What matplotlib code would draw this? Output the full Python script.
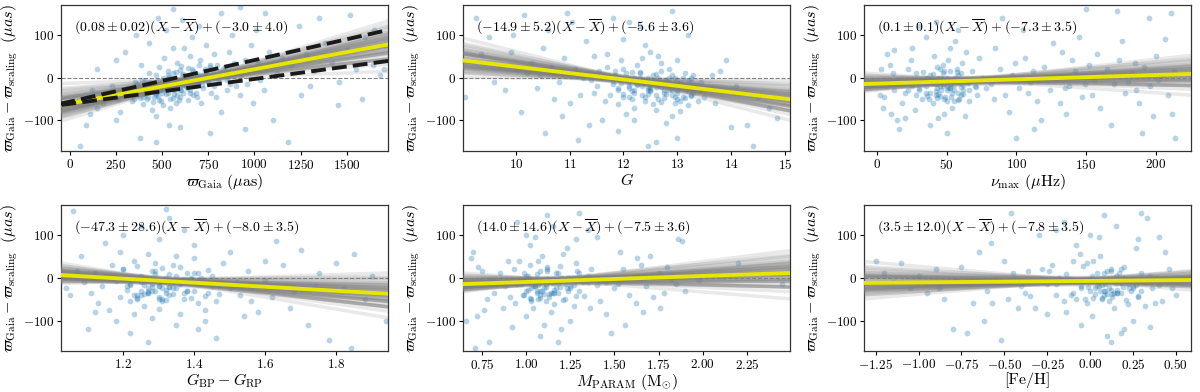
import numpy as np
import matplotlib
matplotlib.use("Agg")
import matplotlib.pyplot as plt

plt.rcParams["font.family"] = "serif"
plt.rcParams["font.serif"] = ["cmr10", "DejaVu Serif"]
plt.rcParams["mathtext.fontset"] = "cm"
plt.rcParams["axes.formatter.use_mathtext"] = True

# --- scatter data (one list pair per panel) ---
plx_x = [412,455,380,520,610,565,495,700,640,350,430,585,670,730,545,470,395,620,760,505,
         330,690,455,580,810,520,365,640,720,600,480,555,425,660,875,510,390,575,705,445,
         530,615,750,340,485,595,680,840,420,560,650,900,470,385,780,540,620,300,710,950,
         260,230,275,205,180,150,120,110,90,55,1000,1050,1080,1120,1150,980,1030,1200,1250,1280,
         1320,1380,1420,1460,1500,1550,1600,1640,1680,1350,1100,1180,1240,1060,1520,1650,1700,1450,1580,1300,
         880,820,950,760,600,470,380,250,300,430,520,610,700,820,920,360,480,560,250,150,
         860,920,990,1010,870,930,790,740,660,560,440,500,590,650,470,530,410,560,620,690,
         380,450,510,575,635,725,480,540,600,665,355,425,495,565,605,745,505,460,590,685,
         400,525,630,700,820,780,850,900,960,1020]
plx_y = [-35,-12,-48,-20,5,-30,-55,-8,22,-25,10,-5,-40,15,-70,-28,-62,-18,30,0,
         -40,8,-45,35,-10,-38,-15,-52,-25,18,-8,-22,-30,-2,12,45,-5,-60,40,-75,
         -15,-35,-5,-55,25,-45,-20,25,-50,10,50,-20,-90,30,55,-110,70,-35,-60,40,
         -50,-20,-80,-45,-60,-70,-30,-85,-110,-160,20,-30,60,10,45,75,-5,30,-40,55,
         15,80,35,-10,65,20,95,30,5,140,-100,-150,120,150,145,110,20,-65,-50,-20,
         100,-80,-120,-130,-115,-150,-140,-100,60,80,110,135,120,150,165,100,140,160,40,20,
         60,-40,-60,110,-15,5,-45,75,95,70,-20,-35,-12,-28,5,15,-8,-48,-3,-15,
         -32,-58,-25,12,-10,-5,-42,2,-30,20,-10,-45,-18,-38,28,10,-65,-22,-52,-35,
         -20,-3,-20,30,5,-20,-5,10,-15,35]
plx_core_x = [420,470,515,560,605,650,695,740,785,830,395,445,490,535,580,625,670,715,760,805,
              350,400,450,500,550,600,650,700,750,800,435,485,530,570,615,655,690,730,775,850,
              375,465,545,585,635,675,710,765,815,890]
plx_core_y = [-25,-40,-8,-18,-30,0,-12,10,-2,20,-45,-20,-30,5,-40,-8,15,-18,25,0,
              -50,-38,-15,-28,-5,-22,-35,2,-10,30,-10,-52,-35,-25,8,-15,-45,20,12,-28,
              -20,-35,-50,-12,-25,-5,5,-35,15,35]

g_x = [12.1,12.5,12.8,13.0,12.3,11.8,12.6,13.2,12.9,12.2,11.6,12.4,12.7,13.1,12.0,11.9,12.55,13.25,12.85,12.15,
       11.7,12.45,13.05,12.35,12.95,11.85,12.65,13.3,12.25,12.75,11.5,12.05,12.6,13.15,12.9,12.2,11.95,12.5,13.0,12.4,
       11.75,12.3,12.8,13.35,12.1,12.7,13.2,11.65,12.55,12.0,12.85,13.1,12.35,11.8,12.6,13.25,12.45,12.95,12.15,11.55,
       12.75,13.05,12.25,11.9,12.65,13.3,12.05,12.5,12.9,11.45,13.4,13.45,13.5,13.38,12.2,12.8,13.0,11.7,12.4,12.0,
       9.25,9.5,9.7,9.9,10.1,10.2,10.4,10.5,10.6,10.8,10.9,11.0,11.1,11.2,11.3,11.4,10.3,10.7,11.05,9.8,
       10.0,9.6,9.35,10.15,10.55,11.15,9.05,10.95,11.35,10.45,11.25,10.85,11.45,10.65,9.95,
       11.8,12.3,12.6,13.0,11.9,12.9,12.1,13.2,11.6,12.45,
       13.6,13.7,13.8,14.0,14.1,14.3,14.5,14.7,14.85,13.9,14.4,13.65]
g_y = [-10,-25,-5,-30,10,-15,-40,-20,5,-35,0,-55,15,-45,20,-30,-8,-2,-28,-50,
       25,0,-12,-20,-60,5,-18,-35,30,-48,-20,-5,8,10,-15,-70,40,-32,-50,-12,
       -40,-2,-38,-15,-25,35,-65,-55,-62,-45,20,-25,45,-8,-75,-42,-38,0,12,15,
       -10,-78,-18,-62,50,5,-85,60,-90,-35,-30,-10,-45,-55,-100,-105,40,55,75,90,
       140,95,30,60,-80,10,-25,70,110,-10,45,-60,20,-40,85,-5,35,-50,130,-30,
       20,-10,55,145,-130,-145,-45,150,-110,5,0,-90,50,25,100,
       140,120,-150,-140,-125,155,130,100,-100,-160,
       -25,-60,15,-115,-20,-110,-45,-70,-95,40,-160,5]
g_core_x = [12.1,12.3,12.5,12.7,12.9,13.1,13.3,12.2,12.4,12.6,12.8,13.0,13.2,11.9,12.05,12.25,12.45,12.65,12.85,13.05,
            13.25,12.15,12.35,12.55,12.75,12.95,13.15,13.35,11.85,12.0,12.2,12.4,12.6,12.8,13.0,13.2,12.1,12.3,12.5,12.7,
            12.9,13.1,11.95,12.45,12.75,13.05,12.35,12.65,12.95,13.25]
g_core_y = [-20,-5,-30,-22,-40,-15,-28,0,-45,-10,-18,-35,-8,-25,10,-15,-28,-50,-2,-22,
            -40,-32,-12,5,-30,-20,-48,-25,15,-38,-28,-5,-22,-12,-5,-32,-45,12,-18,-58,
            -30,0,-12,-25,-35,-55,-40,-2,-45,-10]

nu_x = [45,52,38,58,48,55,42,60,50,35,47,53,40,62,57,44,49,33,65,51,
        46,39,54,59,43,56,36,61,50,41,25,20,28,18,30,22,27,15,32,24,
        70,68,72,75,66,73,64,78,12,8,5,3,10,7,14,4,9,6,11,2,
        48,52,44,56,38,58,42,50,35,63,20,25,30,16,12,
        82,88,92,97,102,106,110,115,120,124,128,133,138,142,147,152,156,160,165,170,
        174,178,183,188,192,196,200,205,209,213,85,95,105,118,126,136,145,158,168,176,
        186,198,207,211,90,100,113,150,172,195,84,99,108,122,131,140,149,162,180,202,
        87,112,135,154,185,212,214,190]
nu_y = [-10,-25,5,-35,15,-5,-40,10,-55,-20,30,-15,-60,-28,20,-2,-45,12,-12,40,
        -30,-8,-70,-50,25,0,-42,35,-18,50,-15,-35,10,-60,-25,20,-75,-5,-50,40,
        -20,15,-40,0,-55,45,60,-25,-30,-10,-45,20,-85,55,-100,-70,30,-20,10,-40,
        -85,70,-95,85,-110,110,130,-130,95,-90,-95,70,120,-120,65,
        -15,20,-40,5,-25,45,-10,-55,25,-30,0,60,-20,15,-45,30,-5,-70,20,-15,
        40,-35,10,-60,25,-20,50,5,-40,15,70,-80,110,-100,80,-85,95,55,-110,85,
        -30,-90,90,150,140,-140,-120,160,155,140,-50,35,-35,-5,-60,40,-15,5,-10,-5,
        -5,15,-25,-40,35,-85,-140,-130]
nu_core_x = [45,50,55,40,60,35,48,52,43,57,38,62,47,53,42,58,30,65,50,45,
             25,55,40,60,35,48,52,43,57,38,62,47,53,42,58,28,68,50,45,55,
             22,33,44,51,59,66,71,37,46,54]
nu_core_y = [-20,-5,-30,-12,-40,0,-50,15,-25,-8,-35,-18,10,-45,-15,5,-28,-10,-30,-42,
             -20,-55,8,-22,-35,-15,-25,-48,12,-5,-38,-20,-10,-32,-52,-40,-5,0,20,-18,
             -30,-8,-38,-25,-12,-30,-22,-50,-2,-35]

col_x = [1.30,1.35,1.25,1.40,1.28,1.33,1.22,1.38,1.31,1.45,1.27,1.36,1.24,1.42,1.29,1.34,1.20,1.47,1.32,1.26,
         1.39,1.23,1.37,1.30,1.44,1.21,1.35,1.28,1.41,1.33,1.18,1.48,1.25,1.34,1.29,1.43,1.19,1.38,1.31,1.27,
         1.16,1.50,1.36,1.22,1.40,1.26,1.32,1.45,1.24,1.37,1.14,1.52,1.17,1.13,1.53,1.55,1.12,1.56,1.11,1.58,
         1.30,1.35,1.25,1.40,1.28,1.33,1.22,1.43,1.20,1.37,1.15,1.10,1.08,1.06,1.12,1.18,1.46,1.32,1.27,1.50,
         1.60,1.62,1.65,1.68,1.70,1.72,1.75,1.78,1.80,1.82,1.85,1.88,1.90,1.63,1.67,1.58,1.84,1.94,1.74,1.60,
         1.05,1.07,1.09,1.04,1.16,1.19,1.23,1.41,1.48,1.54]
col_y = [-10,-25,5,-30,15,-40,-15,10,-55,-20,-35,25,-50,-5,35,-12,20,-38,0,-65,
         -48,40,-2,-72,18,-28,50,-22,-60,8,-8,-15,-40,30,-5,-75,-45,-30,22,55,
         0,-25,-85,-55,45,-18,-35,5,28,-50,-20,-10,30,-60,-40,15,10,-55,-35,-20,
         90,-110,120,75,-95,140,-130,-100,100,110,80,-120,50,155,-80,-100,-140,160,-150,60,
         -5,-45,30,-30,65,-110,10,-145,35,-25,55,-50,5,85,-70,-80,-165,-100,-20,40,
         -40,15,-10,-25,-75,60,-85,-120,35,-90]
col_core_x = [1.30,1.33,1.27,1.36,1.24,1.39,1.31,1.29,1.34,1.26,1.37,1.22,1.41,1.30,1.28,1.35,1.32,1.25,1.38,1.43,
              1.21,1.46,1.29,1.33,1.27,1.36,1.31,1.24,1.40,1.34,1.26,1.30,1.35,1.28,1.32,1.23,1.38,1.42,1.20,1.47,
              1.29,1.31,1.34,1.27,1.36,1.25,1.33,1.30,1.39,1.44]
col_core_y = [-20,-5,-30,-12,-40,0,-50,15,-25,-8,-35,-18,10,-45,-15,5,-28,-10,-30,-42,
              -20,-55,8,-22,-35,-15,-25,-48,12,-5,-38,-20,-10,-32,-52,-40,-5,0,20,-18,
              -30,-8,-38,-25,-12,-30,-22,-50,-2,-35]

mass_x = [1.05,1.10,1.00,1.15,1.08,1.20,0.98,1.12,1.25,1.03,1.18,0.95,1.30,1.07,1.22,0.93,1.13,1.35,1.01,1.28,
          1.16,0.97,1.40,1.09,1.24,0.91,1.33,1.04,1.19,1.45,1.11,1.02,1.27,0.99,1.37,1.06,1.21,0.94,1.31,1.14,
          1.17,1.00,1.23,0.96,1.42,1.08,1.29,1.50,1.12,1.36,0.88,0.85,0.82,0.90,0.87,0.80,0.78,0.75,0.72,0.70,
          0.68,0.66,0.73,0.76,0.69,0.71,0.79,
          1.05,1.10,1.15,1.20,1.00,1.25,0.95,1.30,1.08,1.35,1.18,1.02,1.28,0.92,1.40,1.12,1.45,1.48,
          1.52,1.55,1.58,1.60,1.62,1.65,1.68,1.70,1.72,1.75,1.78,1.80,1.85,1.88,1.90,1.93,1.56,1.63,1.76,1.82,
          2.20,2.45,1.98,1.53,1.66,1.86]
mass_y = [-10,-25,5,-35,15,-5,-40,25,-20,-55,10,-15,-30,40,-50,20,-8,5,-28,35,
          -62,-2,-18,50,0,-45,-42,-70,28,-10,-15,30,-65,12,20,-35,55,-60,-5,-80,
          -25,-90,70,38,-55,-48,15,-25,-3,-70,-20,10,-35,40,-70,-5,-50,15,-90,60,
          -15,-100,25,-75,45,-165,-150,
          95,-110,120,-120,100,-100,130,150,-135,110,-150,75,90,-115,95,145,-85,-130,
          -15,20,-40,0,-60,30,-20,50,-45,10,-35,25,-15,85,-30,5,-110,45,-70,-5,
          35,-15,-5,60,-80,90]
mass_core_x = [1.05,1.10,1.00,1.15,1.08,1.20,1.03,1.12,1.25,0.98,1.18,1.07,1.30,1.13,1.22,1.01,1.16,1.35,1.09,1.28,
               1.04,1.11,1.06,1.19,1.14,0.97,1.23,1.02,1.17,1.26,1.10,1.05,1.32,1.08,1.21,0.99,1.15,1.38,1.12,1.27,
               1.06,1.09,1.13,1.03,1.18,1.24,1.11,1.07,1.01,1.16]
mass_core_y = [-20,-5,-30,-12,-40,0,-50,15,-25,-8,-35,-18,10,-45,-15,5,-28,-10,-30,-42,
               -20,-55,8,-22,-35,-15,-25,-48,12,-5,-38,-20,-10,-32,-52,-40,-5,0,20,-18,
               -30,-8,-38,-25,-12,-30,-22,-50,-2,-35]

feh_x = [0.05,-0.05,0.15,-0.10,0.10,0.00,-0.20,0.20,0.25,-0.15,0.08,-0.25,0.30,0.02,-0.08,0.18,-0.30,0.35,0.12,-0.02,
         0.22,-0.12,0.40,0.06,-0.18,0.28,-0.35,0.14,-0.04,0.45,0.09,-0.22,0.32,0.04,-0.28,0.16,-0.06,0.38,0.24,-0.14,
         0.11,0.01,0.27,-0.10,0.42,0.07,-0.24,0.48,0.19,-0.32,-0.40,-0.45,-0.38,-0.50,-0.42,-0.55,-0.48,-0.36,0.44,0.50,
         0.05,-0.05,0.15,0.20,0.00,0.25,-0.15,0.30,0.10,-0.20,0.12,-0.08,0.28,0.35,0.40,0.08,-0.25,0.18,-0.30,0.33,
         -0.60,-0.65,-0.70,-0.75,-0.80,-0.85,-0.90,-0.95,-1.00,-1.05,-1.10,-1.15,-1.20,-1.25,-0.62,-0.72,-0.78,-0.58,-0.68,-0.88,
         -0.52,-0.46,-0.57,0.46,0.49,0.36,-0.02,0.03]
feh_y = [-10,-25,5,-35,15,-5,-40,25,-20,-55,10,-15,-30,40,-50,20,-8,5,-28,35,
         -62,-2,-18,50,0,-45,-42,-70,28,-10,-15,30,-65,12,20,-35,55,-60,-5,-80,
         -25,-90,70,38,-55,-48,15,-25,-3,-70,-20,10,-35,40,-70,-5,-50,15,60,-40,
         95,-110,120,-120,100,-100,130,150,-135,110,-150,75,90,-115,95,145,-85,-130,100,140,
         -30,60,-15,25,-120,-50,20,-35,5,-25,35,-10,10,40,-100,-130,-5,80,-60,-25,
         -145,150,-60,20,-5,-25,-60,-38]
feh_core_x = [0.05,0.10,0.00,0.15,0.08,0.20,-0.03,0.12,0.25,-0.08,0.18,0.07,0.30,0.13,0.22,0.01,0.16,0.35,0.09,0.28,
              0.04,0.11,-0.14,0.19,0.14,-0.20,0.23,0.02,0.17,0.26,0.10,-0.05,0.32,0.08,0.21,-0.11,0.15,0.38,0.12,0.27,
              0.06,-0.25,0.13,0.03,0.18,0.24,-0.01,0.07,0.41,0.16]
feh_core_y = [-20,-5,-30,-12,-40,0,-50,15,-25,-8,-35,-18,10,-45,-15,5,-28,-10,-30,-42,
              -20,-55,8,-22,-35,-15,-25,-48,12,-5,-38,-20,-10,-32,-52,-40,-5,0,20,-18,
              -30,-8,-38,-25,-12,-30,-22,-50,-2,-35]

# --- fit results printed on the panels: slope, slope err, offset, offset err, mean x ---
slopes = [0.08, -14.9, 0.1, -47.3, 14.0, 3.5]
slope_err = [0.02, 5.2, 0.1, 28.6, 14.6, 12.0]
offsets = [-3.0, -5.6, -7.3, -8.0, -7.5, -7.8]
offset_err = [4.0, 3.6, 3.5, 3.5, 3.6, 3.5]
x_means = [720, 12.08, 67.5, 1.321, 1.18, -0.05]

# standardised posterior draws (shared by all panels)
z_slope = [-1.8, 0.3, 1.1, -0.6, 0.0, 2.1, -1.2, 0.7, -0.2, 1.5, -0.9, 0.4, -2.4, 0.9, -0.4,
           1.3, 0.1, -1.5, 0.6, -0.1, 1.9, -0.7, 0.2, -1.1, 0.8, -0.3, 1.0, -1.9, 0.5, -0.5,
           1.6, -0.8, 0.05, -1.3, 1.2, -0.15, 0.35, -2.0, 0.75, -0.45, 2.6, -1.0, 0.15, -0.65, 1.4,
           -0.25, 0.55, -1.4, 0.95, -0.05, 1.75, -1.6, 0.45, -0.35, 1.05, -0.85, 0.25, -1.15, 0.65, -3.2]
z_offset = [0.4, -1.1, 0.2, 1.6, -0.3, 0.9, -0.7, -1.8, 0.1, 1.2, -0.5, 2.0, 0.6, -0.2, -1.4,
            0.8, 1.5, -0.9, 0.0, -0.6, 0.3, 1.1, -2.2, 0.5, -0.1, 1.8, -1.2, 0.7, -0.4, 2.4,
            -0.8, 0.15, -1.5, 1.0, -0.25, 0.45, -1.0, 1.3, -0.05, -2.6, 0.65, 0.25, -0.35, 1.4, -0.75,
            0.05, 0.95, -1.3, 0.35, -0.15, 1.7, -0.55, 0.55, -1.7, 0.85, -0.45, 0.1, 1.9, -0.95, 0.3]

# reference trends in the parallax panel: slope, value at mean x
ref_slopes = [0.097, 0.058]
ref_offsets = [13.6, -19.5]

xlims = [(-47, 1723), (9.02, 15.1), (-9.5, 225.5), (1.025, 1.945), (0.644, 2.495), (-1.318, 0.589)]
xticks = [[0, 250, 500, 750, 1000, 1250, 1500], [10, 11, 12, 13, 14, 15], [0, 50, 100, 150, 200],
          [1.2, 1.4, 1.6, 1.8], [0.75, 1.0, 1.25, 1.5, 1.75, 2.0, 2.25],
          [-1.25, -1.0, -0.75, -0.5, -0.25, 0.0, 0.25, 0.5]]
xlabels = [r"$\varpi_{\mathrm{Gaia}}\ (\mu\mathrm{as})$", r"$G$", r"$\nu_{\mathrm{max}}\ (\mu\mathrm{Hz})$",
           r"$G_{\mathrm{BP}} - G_{\mathrm{RP}}$", r"$M_{\mathrm{PARAM}}\ (\mathrm{M}_{\odot})$", r"[Fe/H]"]
ylabel = r"$\varpi_{\mathrm{Gaia}} - \varpi_{\mathrm{scaling}}\ \ (\mu as)$"

xs = [plx_x + plx_core_x, g_x + g_core_x, nu_x + nu_core_x,
      col_x + col_core_x, mass_x + mass_core_x, feh_x + feh_core_x]
ys = [plx_y + plx_core_y, g_y + g_core_y, nu_y + nu_core_y,
      col_y + col_core_y, mass_y + mass_core_y, feh_y + feh_core_y]

fig = plt.figure(figsize=(12, 3.92), dpi=100)
lefts = [0.0508, 0.386, 0.72]
bottoms = [0.615, 0.1046]
w, h = 0.2725, 0.372

for i in range(6):
    ax = fig.add_axes([lefts[i % 3], bottoms[i // 3], w, h])
    x0, x1 = xlims[i]
    xx = np.array([x0 - (x1 - x0), x1 + (x1 - x0)])

    ax.axhline(0, color="gray", ls="--", lw=0.8, zorder=1)
    ax.scatter(xs[i], ys[i], s=17, color="#1f77b4", alpha=0.32, lw=0, zorder=2)

    for zs, zo in zip(z_slope, z_offset):
        b = slopes[i] + zs * slope_err[i]
        c = offsets[i] + zo * offset_err[i]
        ax.plot(xx, c + b * (xx - x_means[i]), color="gray", alpha=0.17, lw=2.5, zorder=3)

    ax.plot(xx, offsets[i] + slopes[i] * (xx - x_means[i]), color="#e6e600", lw=2.8, zorder=5)

    if i == 0:
        for b, c in zip(ref_slopes, ref_offsets):
            ax.plot(xx, c + b * (xx - x_means[0]), color="#1a1a1a", lw=2.8,
                    ls=(0, (3.8, 1.6)), zorder=6)

    txt = r"$(%s \pm %s)(X - \overline{X}) + (%.1f \pm %.1f)$" % (
        ("%.2f" % slopes[i]) if i == 0 else ("%.1f" % slopes[i]),
        ("%.2f" % slope_err[i]) if i == 0 else ("%.1f" % slope_err[i]),
        offsets[i], offset_err[i])
    ax.text(0.04, 0.85, txt, transform=ax.transAxes, fontsize=10, va="center", ha="left", zorder=7)

    ax.set_xlim(x0, x1)
    ax.set_ylim(-171, 169)
    ax.set_xticks(xticks[i])
    ax.set_yticks([-100, 0, 100])
    ax.set_xlabel(xlabels[i], fontsize=11.5, labelpad=0)
    ax.set_ylabel(ylabel, fontsize=11.5, labelpad=2)
    ax.tick_params(direction="out", length=3, width=0.8, labelsize=9.5, pad=2)
    for sp in ax.spines.values():
        sp.set_color("#333333")
        sp.set_linewidth(0.9)

fig.savefig("out.png", dpi=100)
